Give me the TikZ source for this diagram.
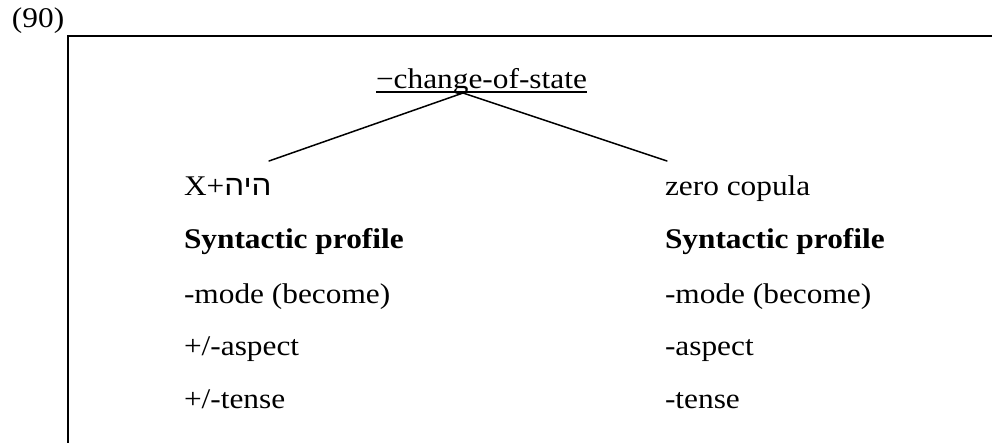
\documentclass[tikz,border=0pt]{standalone}
\usepackage{fontspec}
\setmainfont{Liberation Serif}[FakeStretch=1.1]
\newfontfamily\hebfont[Script=Hebrew,FakeStretch=1.1]{Liberation Sans}
\TeXXeTstate=1
\begin{document}
\begin{tikzpicture}[x=1pt,y=-1pt,
  txt/.style={anchor=base west,inner sep=0pt,outer sep=0pt,font=\fontsize{28.5}{34}\selectfont},
  rule/.style={line width=1.5pt,black},
  branch/.style={line width=1.5pt,black,line cap=round}]
  \useasboundingbox (0,0) rectangle (992,443);
  % example number
  \node[txt] (num) at (12,28) {(90)};
  % open frame: top and left sides only
  \coordinate (ftl) at (68,36);
  \coordinate (ftr) at (992,36);
  \coordinate (fbl) at (68,443);
  \draw[rule] (ftr) -- (ftl) -- (fbl);
  % root feature, underlined
  \node[txt] (root) at (376,89) {\char"2212change-of-state};
  \draw[line width=1.3pt] ([yshift=-3pt]root.base west) -- ([yshift=-3pt]root.base east);
  % branches
  \coordinate (apex) at (463,93);
  \coordinate (lend) at (269,161);
  \coordinate (rend) at (667,161);
  \draw[branch] (lend) -- (apex) -- (rend);
  % left column
  \node[txt] (l1) at (184,196) {X+{\hebfont\beginR היה\endR}};
  \node[txt] (l2) at (184,249) {\bfseries Syntactic profile};
  \node[txt] (l3) at (184,303) {-mode (become)};
  \node[txt] (l4) at (184,355) {+/-aspect};
  \node[txt] (l5) at (184,408) {+/-tense};
  % right column
  \node[txt] (r1) at (665,196) {zero copula};
  \node[txt] (r2) at (665,249) {\bfseries Syntactic profile};
  \node[txt] (r3) at (665,303) {-mode (become)};
  \node[txt] (r4) at (665,355) {-aspect};
  \node[txt] (r5) at (665,408) {-tense};
\end{tikzpicture}
\end{document}
